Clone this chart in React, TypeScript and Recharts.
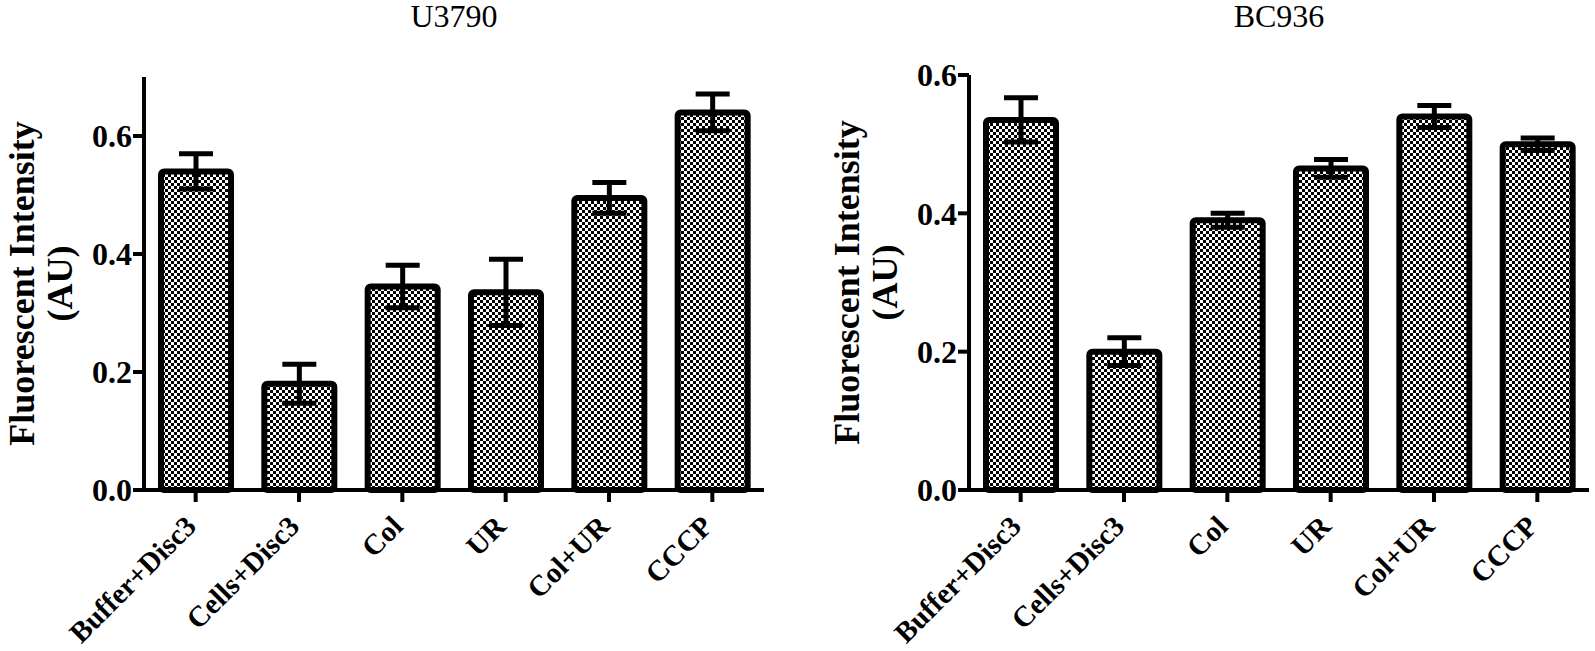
import React from "react";
import { BarChart, Bar, XAxis, YAxis, ErrorBar } from "recharts";

const categories = ["Buffer+Disc3", "Cells+Disc3", "Col", "UR", "Col+UR", "CCCP"];

const u3790Values = [0.54, 0.18, 0.345, 0.335, 0.495, 0.64];
const u3790Errors = [0.03, 0.033, 0.036, 0.056, 0.026, 0.031];

const bc936Values = [0.535, 0.2, 0.39, 0.465, 0.54, 0.5];
const bc936Errors = [0.032, 0.02, 0.01, 0.013, 0.016, 0.009];

const yTicks = [0, 0.2, 0.4, 0.6];

const FONT = "'Liberation Serif', 'Times New Roman', Times, serif";
const AXIS_Y = 490;
const PLOT_W = 620;
const Y_AXIS_W = 144;
const CHART_W = Y_AXIS_W + PLOT_W + 6;

const CategoryTick = (props: any) => {
  const { x, y, payload } = props;
  const ax = x + 2;
  const ay = y + 24;
  return (
    <text
      x={ax}
      y={ay}
      transform={`rotate(-45, ${ax}, ${ay})`}
      textAnchor="end"
      fontFamily={FONT}
      fontWeight="bold"
      fontSize={29}
      fill="#000"
    >
      {payload.value}
    </text>
  );
};

const yTitle = (top: number) => () => {
  const cy = (top + AXIS_Y) / 2;
  return (
    <text
      transform={`translate(${Y_AXIS_W - 110}, ${cy}) rotate(-90)`}
      textAnchor="middle"
      fontFamily={FONT}
      fontWeight="bold"
      fontSize={36}
      fill="#000"
    >
      <tspan x={0} y={0}>Fluorescent Intensity</tspan>
      <tspan x={0} y={38}>(AU)</tspan>
    </text>
  );
};

interface PanelProps {
  title: string;
  values: number[];
  errors: number[];
  yMax: number;
  top: number;
  left: number;
}

const Panel = ({ title, values, errors, yMax, top, left }: PanelProps) => {
  const data = categories.map((name, i) => ({ name, value: values[i], err: errors[i] }));
  return (
    <div style={{ position: "absolute", left, top: 0, width: CHART_W, height: 651 }}>
      <div
        style={{
          position: "absolute",
          left: Y_AXIS_W,
          top: 0,
          width: PLOT_W,
          textAlign: "center",
          fontFamily: FONT,
          fontSize: 32,
          lineHeight: "32px",
          color: "#000",
        }}
      >
        {title}
      </div>
      <BarChart
        width={CHART_W}
        height={651}
        data={data}
        margin={{ top, right: 6, bottom: 0, left: 0 }}
        barSize={70}
      >
        <XAxis
          dataKey="name"
          height={651 - AXIS_Y}
          interval={0}
          tickSize={12}
          axisLine={{ stroke: "#000", strokeWidth: 4 }}
          tickLine={{ stroke: "#000", strokeWidth: 4 }}
          tick={<CategoryTick />}
        />
        <YAxis
          type="number"
          domain={[0, yMax]}
          ticks={yTicks}
          width={Y_AXIS_W}
          tickSize={11}
          tickMargin={1}
          tickFormatter={(v: number) => v.toFixed(1)}
          axisLine={{ stroke: "#000", strokeWidth: 4 }}
          tickLine={{ stroke: "#000", strokeWidth: 4 }}
          tick={{ fill: "#000", fontFamily: FONT, fontWeight: "bold", fontSize: 32 }}
          label={yTitle(top)}
        />
        <Bar
          dataKey="value"
          fill="url(#checker)"
          stroke="#000"
          strokeWidth={6}
          radius={3}
          isAnimationActive={false}
        >
          <ErrorBar dataKey="err" width={17} strokeWidth={5} stroke="#000" />
        </Bar>
      </BarChart>
    </div>
  );
};

export default function App() {
  return (
    <div style={{ position: "absolute", left: 0, top: 0, width: 1595, height: 651, background: "#fff" }}>
      <svg width={0} height={0} style={{ position: "absolute" }}>
        <defs>
          <pattern id="checker" width={6} height={6} patternUnits="userSpaceOnUse">
            <rect width={6} height={6} fill="#fff" />
            <rect width={3} height={3} fill="#000" />
            <rect x={3} y={3} width={3} height={3} fill="#000" />
          </pattern>
        </defs>
      </svg>
      <Panel title="U3790" values={u3790Values} errors={u3790Errors} yMax={0.7} top={77} left={0} />
      <Panel title="BC936" values={bc936Values} errors={bc936Errors} yMax={0.6} top={75} left={825} />
    </div>
  );
}
